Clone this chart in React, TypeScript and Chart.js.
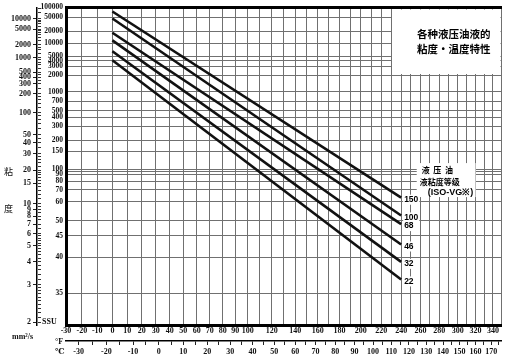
import React, { useEffect, useRef } from 'react';
import { Chart, registerables, Scale } from 'chart.js';

// ---------------- data ----------------
const RANKINE = 459.67;

const GRADES = ['150', '100', '68', '46', '32', '22'];
const LINE_TEMPS_F = [0, 240];
const VISC_150 = [16200, 11.2];
const VISC_100 = [10000, 8.1];
const VISC_68 = [4000, 7.0];
const VISC_46 = [2550, 5.1];
const VISC_32 = [1400, 4.0];
const VISC_22 = [880, 3.2];
const SERIES = [VISC_150, VISC_100, VISC_68, VISC_46, VISC_32, VISC_22];

const TITLE_LINES = ['各种液压油液的', '粘度・温度特性'];
const LEGEND_LINES = ['液  压  油', '液粘度等级', '(ISO-VG※)'];

const F_MIN = -30;
const F_MAX = 350;
const F_GRID = [-30, -20, -10, 0, 10, 20, 30, 40, 50, 60, 70, 80, 90, 100, 110, 120, 130, 140, 150, 160, 170, 180,
  190, 200, 210, 220, 230, 240, 250, 260, 270, 280, 290, 300, 310, 320, 330, 340, 350];
const F_LABELS = [-30, -20, -10, 0, 10, 20, 30, 40, 50, 60, 70, 80, 90, 100, 120, 140, 160, 180, 200, 220, 240, 260,
  280, 300, 320, 340];
const C_TICKS = [-30, -25, -20, -15, -10, -5, 0, 5, 10, 15, 20, 25, 30, 35, 40, 45, 50, 55, 60, 65, 70, 75, 80, 85, 90,
  95, 100, 105, 110, 115, 120, 125, 130, 135, 140, 145, 150, 155, 160, 165, 170, 175];
const C_LABELS = [-30, -20, -10, 0, 10, 20, 30, 40, 50, 60, 70, 80, 90, 100, 110, 120, 130, 140, 150, 160, 170];

const SSU_GRID = [35, 40, 45, 50, 60, 70, 80, 90, 95, 100, 150, 200, 300, 400, 500, 700, 1000, 2000, 3000, 4000, 5000,
  10000, 20000, 50000, 100000];
const SSU_LABELS = [35, 40, 45, 50, 60, 70, 80, 90, 100, 150, 200, 300, 400, 500, 700, 1000, 2000, 3000, 4000, 5000,
  10000, 20000, 50000, 100000];
const CST_LABELS = [2, 3, 4, 5, 6, 7, 8, 9, 10, 15, 20, 30, 40, 50, 100, 200, 300, 400, 500, 1000, 2000, 5000, 10000];
const CST_MINOR_STEPS = [
  [2, 3, 0.1], [3, 6, 0.2], [6, 10, 0.5], [10, 20, 1], [20, 30, 2], [30, 50, 5], [50, 100, 10], [100, 200, 20],
  [200, 500, 50], [500, 1000, 100], [1000, 2000, 250], [2000, 5000, 500], [5000, 10000, 1000], [10000, 20000, 5000],
];
const CST_MIN = 1.95;
const SSU_TOP = 100000;
const TITLE_BOX_F = 230;
const TITLE_BOX_SSU = 2000;
const LEGEND_LEFT_F = 255;
const LEGEND_RIGHT_F = 320;
const LEGEND_REF_SSU = 100;

// ---------------- helpers ----------------
const walther = (v: number) => Math.log10(Math.log10(v + 0.7));
const waltherInv = (w: number) => Math.pow(10, Math.pow(10, w)) - 0.7;
const susFromCst = (v: number) =>
  4.6324 * v + (1 + 0.03264 * v) / ((3930.2 + 262.7 * v + 23.97 * v * v + 1.646 * v * v * v) * 1e-5);
function ssuToCst(s: number) {
  let lo = 0.3, hi = 60000;
  for (let i = 0; i < 100; i++) {
    const mid = (lo + hi) / 2;
    if (susFromCst(mid) < s) lo = mid; else hi = mid;
  }
  return (lo + hi) / 2;
}
function minorTicks() {
  const out: number[] = [];
  for (const [a, b, st] of CST_MINOR_STEPS) {
    const n = Math.round((b - a) / st);
    for (let i = 0; i < n; i++) out.push(+(a + i * st).toFixed(4));
  }
  out.push(20000);
  return out;
}

class WaltherScale extends (Scale as any) {
  static id = 'walther';
  static defaults = {};
  _wMin = 0;
  _wMax = 1;
  determineDataLimits() {
    this.min = this.options.min;
    this.max = this.options.max;
  }
  buildTicks() {
    return [];
  }
  configure() {
    super.configure();
    this._wMin = walther(this.min);
    this._wMax = walther(this.max);
  }
  getPixelForValue(v: number) {
    return this.getPixelForDecimal((walther(v) - this._wMin) / (this._wMax - this._wMin));
  }
  getValueForPixel(p: number) {
    return waltherInv(this._wMin + this.getDecimalForPixel(p) * (this._wMax - this._wMin));
  }
  getLabelForValue(v: number) {
    return String(v);
  }
}

Chart.register(...registerables, WaltherScale as any);

const SERIF = "'Liberation Serif', 'DejaVu Serif', serif";
const SANS = "'Liberation Sans', Arial, sans-serif";
const CJK = "'Noto Sans CJK SC', 'Noto Sans CJK JP', sans-serif";
const GRID_COLOR = '#707070';
const TEXT = '#111';

const decor = {
  id: 'decor',
  beforeDatasetsDraw(chart: any) {
    const { ctx, chartArea: ca, scales } = chart;
    const x = scales.x, y = scales.y;
    ctx.save();
    // title box
    const bx = Math.round(x.getPixelForValue(TITLE_BOX_F + RANKINE)) + 1;
    const bb = Math.round(y.getPixelForValue(ssuToCst(TITLE_BOX_SSU))) - 1;
    ctx.fillStyle = '#fff';
    ctx.fillRect(bx, ca.top + 2, ca.right - 1 - bx, bb - ca.top - 2);
    ctx.fillStyle = '#000';
    ctx.font = `bold 10.5px ${CJK}`;
    ctx.textAlign = 'right';
    ctx.textBaseline = 'middle';
    const cy = (ca.top + bb) / 2 + 1;
    ctx.fillText(TITLE_LINES[0], ca.right - 11, cy - 7.5);
    ctx.fillText(TITLE_LINES[1], ca.right - 11, cy + 7.5);
    // legend box
    const lx = x.getPixelForValue(LEGEND_LEFT_F + RANKINE);
    const rx = x.getPixelForValue(LEGEND_RIGHT_F + RANKINE);
    const ry = y.getPixelForValue(ssuToCst(LEGEND_REF_SSU));
    ctx.fillStyle = '#fff';
    ctx.fillRect(lx + 1, ry - 6, rx - lx - 1, 34);
    ctx.fillStyle = '#000';
    ctx.textAlign = 'left';
    ctx.font = `bold 8px ${CJK}`;
    ctx.fillText(LEGEND_LINES[0], lx + 6, ry + 1);
    ctx.fillText(LEGEND_LINES[1], lx + 4, ry + 13);
    ctx.font = `bold 9px ${SANS}`;
    ctx.fillText(LEGEND_LINES[2], lx + 12, ry + 23.5);
    ctx.restore();
  },
  afterDatasetsDraw(chart: any) {
    const { ctx } = chart;
    ctx.save();
    ctx.font = `bold 8.5px ${SANS}`;
    ctx.textAlign = 'left';
    ctx.textBaseline = 'middle';
    chart.data.datasets.forEach((ds: any, i: number) => {
      const meta = chart.getDatasetMeta(i);
      const pt = meta.data[meta.data.length - 1];
      const tx = pt.x + 3, ty = pt.y + 2;
      const w = ctx.measureText(ds.label).width;
      ctx.fillStyle = '#fff';
      ctx.fillRect(tx - 1, ty - 5, w + 2, 10);
      ctx.fillStyle = '#000';
      ctx.fillText(ds.label, tx, ty);
    });
    ctx.restore();
  },
  afterDraw(chart: any) {
    const { ctx, scales } = chart;
    const yc = scales.yCst;
    ctx.save();
    ctx.fillStyle = TEXT;
    ctx.textBaseline = 'middle';
    ctx.textAlign = 'center';
    ctx.font = `9px ${CJK}`;
    ctx.fillText('粘', 8.5, yc.getPixelForValue(20) + 1);
    ctx.fillText('度', 8.5, yc.getPixelForValue(9.2));
    ctx.textAlign = 'left';
    ctx.font = `bold 8px ${SERIF}`;
    ctx.fillText('mm²/s', 12, 337);
    ctx.fillText('SSU', 42, yc.getPixelForValue(2));
    ctx.fillText('°F', 55, 342);
    ctx.fillText('℃', 55, 352);
    ctx.restore();
  },
};

export default function App() {
  const ref = useRef<HTMLCanvasElement>(null);
  useEffect(() => {
    if (!ref.current) return;
    const xMin = F_MIN + RANKINE, xMax = F_MAX + RANKINE;
    const yMax = ssuToCst(SSU_TOP);
    const labelFont = { family: SERIF, size: 8, weight: 'bold' as const };
    const datasets = GRADES.map((g, i) => ({
      label: g,
      data: LINE_TEMPS_F.map((f, j) => ({ x: f + RANKINE, y: SERIES[i][j] })),
      borderColor: '#111',
      borderWidth: 2.6,
      pointRadius: 0,
      fill: false,
      tension: 0,
      xAxisID: 'x',
      yAxisID: 'y',
    }));
    const chart = new Chart(ref.current, {
      type: 'line',
      data: { datasets },
      plugins: [decor],
      options: {
        responsive: false,
        animation: false,
        devicePixelRatio: 1,
        layout: { padding: { top: 6, right: 3.5, left: 0, bottom: 0 } },
        plugins: { legend: { display: false }, tooltip: { enabled: false } },
        scales: {
          x: {
            type: 'logarithmic', position: 'bottom', weight: 0, min: xMin, max: xMax, bounds: 'data',
            afterBuildTicks: (s: any) => { s.ticks = F_GRID.map((f) => ({ value: f + RANKINE })); },
            afterFit: (s: any) => { s.height = 16; },
            ticks: {
              autoSkip: false, minRotation: 0, maxRotation: 0, padding: 1, font: labelFont, color: TEXT,
              callback: (v: any) => {
                const f = Math.round(Number(v) - RANKINE);
                return F_LABELS.includes(f) ? String(f) : '';
              },
            },
            grid: { color: GRID_COLOR, lineWidth: 1, drawTicks: false },
            border: { display: true, color: '#000', width: 3 },
          },
          xC: {
            type: 'logarithmic', position: 'bottom', weight: 1, min: xMin, max: xMax, bounds: 'data',
            afterBuildTicks: (s: any) => { s.ticks = C_TICKS.map((c) => ({ value: c * 1.8 + 32 + RANKINE })); },
            afterFit: (s: any) => { s.height = 19; },
            ticks: {
              autoSkip: false, minRotation: 0, maxRotation: 0, padding: 2, font: labelFont, color: TEXT,
              callback: (v: any) => {
                const c = Math.round((Number(v) - RANKINE - 32) / 1.8);
                return C_LABELS.includes(c) ? String(c) : '';
              },
            },
            grid: { drawOnChartArea: false, drawTicks: true, tickLength: 4, color: '#222', lineWidth: 1 },
            border: { display: true, color: '#000', width: 1.5 },
          },
          xTop: {
            type: 'logarithmic', position: 'top', min: xMin, max: xMax, bounds: 'data',
            afterFit: (s: any) => { s.height = 0; },
            ticks: { display: false },
            grid: { drawOnChartArea: false, drawTicks: false },
            border: { display: true, color: '#000', width: 3 },
          },
          y: {
            type: 'walther', position: 'left', weight: 0, min: CST_MIN, max: yMax,
            afterBuildTicks: (s: any) => { s.ticks = SSU_GRID.map((v) => ({ value: ssuToCst(v) })); },
            afterFit: (s: any) => { s.width = 25; },
            ticks: {
              autoSkip: false, padding: 3, font: { family: SERIF, size: 7.5, weight: 'bold' }, color: TEXT,
              callback: (_v: any, i: number) => (SSU_LABELS.includes(SSU_GRID[i]) ? String(SSU_GRID[i]) : ''),
            },
            grid: { color: GRID_COLOR, lineWidth: 1, drawTicks: false },
            border: { display: true, color: '#000', width: 3 },
          },
          yMinor: {
            type: 'walther', position: 'left', weight: 1, min: CST_MIN, max: yMax,
            afterBuildTicks: (s: any) => { s.ticks = minorTicks().map((v) => ({ value: v })); },
            afterFit: (s: any) => { s.width = 4; },
            ticks: { display: false, autoSkip: false },
            grid: { drawOnChartArea: false, drawTicks: true, tickLength: 3, color: '#333', lineWidth: 1 },
            border: { display: false },
          },
          yCst: {
            type: 'walther', position: 'left', weight: 2, min: CST_MIN, max: yMax,
            afterBuildTicks: (s: any) => { s.ticks = CST_LABELS.map((v) => ({ value: v })); },
            afterFit: (s: any) => { s.width = 37; },
            ticks: {
              autoSkip: false, padding: 2, font: labelFont, color: TEXT,
              callback: (_v: any, i: number) => String(CST_LABELS[i]),
            },
            grid: { drawOnChartArea: false, drawTicks: true, tickLength: 4, color: '#222', lineWidth: 1 },
            border: { display: true, color: '#000', width: 1.5 },
          },
        },
      } as any,
    });
    return () => chart.destroy();
  }, []);
  return (
    <div style={{ position: 'absolute', left: 0, top: 0, width: 505, height: 360, background: '#fff' }}>
      <canvas ref={ref} width={505} height={360} style={{ display: 'block' }} />
    </div>
  );
}
